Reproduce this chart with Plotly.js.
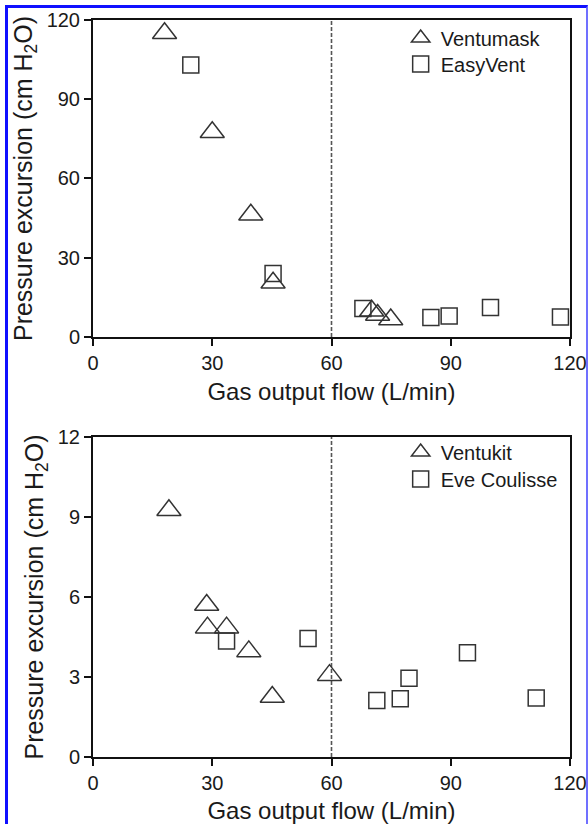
<!DOCTYPE html>
<html>
<head>
<meta charset="utf-8">
<script src="https://cdn.plot.ly/plotly-3.0.1.min.js"></script>
<style>
  html, body { margin: 0; padding: 0; background: #fff; }
  #wrap { position: relative; width: 588px; height: 824px; }
  #chart { width: 588px; height: 824px; }
  #frame { position: absolute; left: 5px; top: 5px; width: 578px; height: 830px;
           border-left: 3px solid #1010ff; border-top: 3px solid #1010ff; border-right: 2px solid #7070ff;
           pointer-events: none; }
</style>
</head>
<body>
<div id="wrap">
  <div id="chart"></div>
  <div id="frame"></div>
</div>
<script>
// Top panel
const ventumaskX = [18, 30, 39.7, 45.3, 70.1, 71.6, 74.9];
const ventumaskY = [115, 77.5, 46.3, 20.5, 9.9, 8.3, 6.6];
const easyVentX = [24.6, 45.3, 67.9, 85, 89.6, 100, 117.6];
const easyVentY = [103, 24, 10.8, 7.4, 7.9, 11.2, 7.6];
// Bottom panel
const ventukitX = [19.1, 28.6, 28.8, 33.6, 39.2, 45.1, 59.5];
const ventukitY = [9.25, 5.7, 4.85, 4.85, 3.96, 2.25, 3.07];
const eveX = [33.6, 54.1, 71.4, 77.3, 79.5, 94.2, 111.5];
const eveY = [4.35, 4.44, 2.12, 2.18, 2.95, 3.91, 2.21];

const xTicks = [0, 30, 60, 90, 120];
const yTicksTop = [0, 30, 60, 90, 120];
const yTicksBottom = [0, 3, 6, 9, 12];
const cutoffFlow = 60;

const xTitle = 'Gas output flow (L/min)';
const yTitle = 'Pressure excursion (cm H<sub>2</sub>O)';

const FONT = '"Liberation Sans", Arial, Helvetica, sans-serif';
const TXT = '#1a1a1a';
const MK = '#333333';

function tri(x, y, name, xa, ya, lg) {
  return { x: x, y: y, name: name, type: 'scatter', mode: 'markers', xaxis: xa, yaxis: ya, legend: lg,
    cliponaxis: false,
    marker: { symbol: 'triangle-up-open', size: 21, color: MK, line: { color: MK, width: 1.5 } } };
}
function sq(x, y, name, xa, ya, lg) {
  return { x: x, y: y, name: name, type: 'scatter', mode: 'markers', xaxis: xa, yaxis: ya, legend: lg,
    cliponaxis: false,
    marker: { symbol: 'square-open', size: 16, color: MK, line: { color: MK, width: 1.5 } } };
}

const data = [
  tri(ventumaskX, ventumaskY, 'Ventumask', 'x', 'y', 'legend'),
  sq(easyVentX, easyVentY, 'EasyVent', 'x', 'y', 'legend2'),
  tri(ventukitX, ventukitY, 'Ventukit', 'x2', 'y2', 'legend3'),
  sq(eveX, eveY, 'Eve Coulisse', 'x2', 'y2', 'legend4')
];

function xaxis(anchor) {
  return {
    anchor: anchor, domain: [0, 1], range: [0, 120], tickvals: xTicks, ticktext: xTicks.map(String),
    showgrid: false, zeroline: false, showline: true, linecolor: '#111', linewidth: 2, mirror: true,
    ticks: 'outside', ticklen: 7, tickwidth: 2, tickcolor: '#111',
    tickfont: { family: FONT, size: 20, color: TXT },
    title: { text: xTitle, font: { family: FONT, size: 24, color: TXT }, standoff: 10 },
    automargin: false, fixedrange: true
  };
}
function yaxis(anchor, domain, range, ticks) {
  return {
    anchor: anchor, domain: domain, range: range, tickvals: ticks, ticktext: ticks.map(String),
    showgrid: false, zeroline: false, showline: true, linecolor: '#111', linewidth: 2, mirror: true,
    ticks: 'outside', ticklen: 7, tickwidth: 2, tickcolor: '#111',
    tickfont: { family: FONT, size: 20, color: TXT },
    title: { text: yTitle, font: { family: FONT, size: 25, color: TXT }, standoff: 7 },
    automargin: false, fixedrange: true
  };
}

function legendAt(y) {
  return {
    xanchor: 'left', yanchor: 'middle', x: 0.645, y: y, bgcolor: 'rgba(0,0,0,0)', borderwidth: 0,
    font: { family: FONT, size: 20, color: TXT }, tracegroupgap: 0, itemclick: false
  };
}

const layout = {
  width: 588, height: 824,
  margin: { l: 93, r: 18, t: 20, b: 67 },
  paper_bgcolor: '#fff', plot_bgcolor: '#fff',
  showlegend: true,
  xaxis: xaxis('y'),
  yaxis: yaxis('x', [0.5699, 1], [0, 120], yTicksTop),
  xaxis2: xaxis('y2'),
  yaxis2: yaxis('x2', [0, 0.4342], [0, 12], yTicksBottom),
  legend: legendAt(0.9756),
  legend2: legendAt(0.9403),
  legend3: legendAt(0.4138),
  legend4: legendAt(0.3772),
  shapes: [
    { type: 'line', xref: 'x', yref: 'y domain', x0: cutoffFlow, x1: cutoffFlow, y0: 0, y1: 1,
      line: { color: '#555', width: 1.6, dash: '4px,2px' }, layer: 'below' },
    { type: 'line', xref: 'x2', yref: 'y2 domain', x0: cutoffFlow, x1: cutoffFlow, y0: 0, y1: 1,
      line: { color: '#555', width: 1.6, dash: '4px,2px' }, layer: 'below' }
  ]
};

Plotly.newPlot('chart', data, layout, { displayModeBar: false, staticPlot: true });
</script>
</body>
</html>
